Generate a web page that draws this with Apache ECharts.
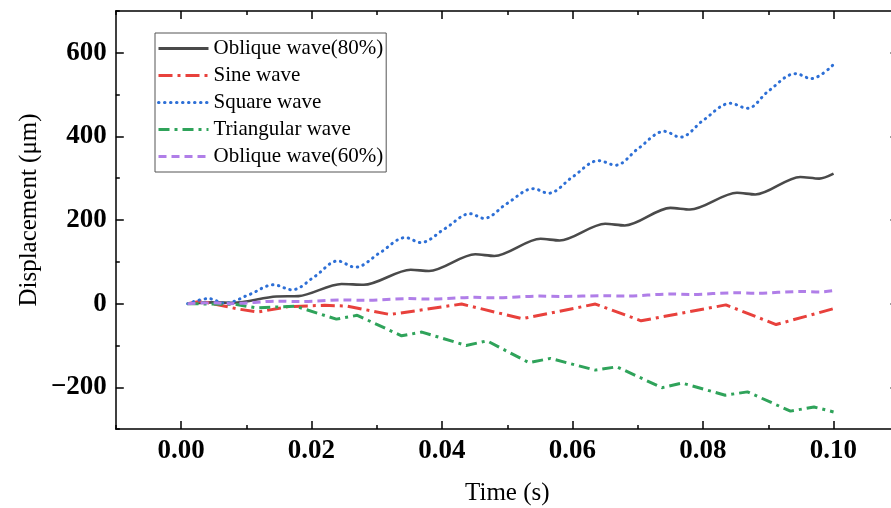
<!DOCTYPE html>
<html>
<head>
<meta charset="utf-8">
<script src="https://cdn.jsdelivr.net/npm/echarts@6/dist/echarts.min.js"></script>
<style>html,body{margin:0;padding:0;background:#fff;overflow:hidden}#c{width:891px;height:508px}</style>
</head>
<body>
<div id="c"></div>
<script>
// ---- data (time in s, displacement in μm) ----
var seriesNames = ['Oblique wave(80%)', 'Sine wave', 'Square wave', 'Triangular wave', 'Oblique wave(60%)'];

var tOblique80 = [0.001, 0.005, 0.008, 0.0146, 0.018, 0.0246, 0.028, 0.0352, 0.038, 0.0451, 0.048, 0.0551, 0.058, 0.065, 0.068, 0.075, 0.078, 0.0852, 0.088, 0.0949, 0.0978, 0.1];
var vOblique80 = [0, 3, 2, 17, 18, 47, 45, 81, 78, 118, 114, 155, 151, 191, 187, 229, 225, 265, 261, 303, 299, 311];

var tSine = [0.001, 0.003, 0.0088, 0.0118, 0.0165, 0.022, 0.0255, 0.032, 0.043, 0.0523, 0.0635, 0.0705, 0.0835, 0.0912, 0.1];
var vSine = [0, 6, -13, -20, -7, -4, -6, -26, -1, -36, -1, -41, -3, -50, -12];

var tSquare = [0.001, 0.0042, 0.0067, 0.0105, 0.0142, 0.017, 0.0205, 0.024, 0.0267, 0.0305, 0.0344, 0.0367, 0.0405, 0.0443, 0.0464, 0.050, 0.054, 0.0563, 0.060, 0.064, 0.0666, 0.070, 0.0741, 0.0765, 0.080, 0.0842, 0.0868, 0.090, 0.0942, 0.0966, 0.1];
var vSquare = [0, 12, 1, 22, 45, 33, 65, 102, 87, 122, 158, 146, 180, 215, 204, 240, 275, 264, 303, 342, 331, 370, 412, 398, 438, 479, 467, 508, 550, 538, 572];

var tTriangular = [0.001, 0.0085, 0.0115, 0.0175, 0.0238, 0.027, 0.0338, 0.0369, 0.0437, 0.0469, 0.0533, 0.0566, 0.0635, 0.0668, 0.0737, 0.0768, 0.0834, 0.0868, 0.0934, 0.097, 0.1];
var vTriangular = [0, -2, -10, -6, -37, -28, -77, -68, -100, -89, -141, -131, -159, -151, -201, -190, -219, -211, -257, -247, -259];

var tOblique60 = [0.001, 0.005, 0.0075, 0.015, 0.018, 0.025, 0.028, 0.035, 0.038, 0.045, 0.048, 0.055, 0.058, 0.065, 0.068, 0.075, 0.078, 0.085, 0.088, 0.095, 0.098, 0.1];
var vOblique60 = [0, 2, 0, 6, 5, 9, 8, 12, 11, 15, 14, 18, 17, 19, 18, 23, 22, 26, 25, 29, 28, 31];

var xTickLabels = ['0.00', '0.02', '0.04', '0.06', '0.08', '0.10'];
var yTickLabels = ['\u2212200', '0', '200', '400', '600'];

function pairs(t, v) { return t.map(function (x, i) { return [x, v[i]]; }); }

var FONT = 'Liberation Serif';
var chart = echarts.init(document.getElementById('c'), null, { renderer: 'canvas' });

var tickStyle = { color: '#000', width: 1.5 };
function minorX(pos, name) {
  return {
    type: 'value', gridIndex: 0, position: pos, min: -0.01, max: 0.11, interval: 0.01,
    axisLine: { show: true, onZero: false, lineStyle: { color: '#000', width: 1.5 } },
    axisTick: { show: true, inside: true, length: 4, lineStyle: tickStyle },
    axisLabel: { show: false }, splitLine: { show: false },
    name: name || '', nameLocation: 'middle', nameGap: 52,
    nameTextStyle: { fontFamily: FONT, fontSize: 25, color: '#000' }
  };
}
function minorY(pos, name) {
  return {
    type: 'value', gridIndex: 0, position: pos, min: -300, max: 700, interval: 100,
    axisLine: { show: true, onZero: false, lineStyle: { color: '#000', width: 1.5 } },
    axisTick: { show: true, inside: true, length: 4, lineStyle: tickStyle },
    axisLabel: { show: false }, splitLine: { show: false },
    name: name || '', nameLocation: 'middle', nameGap: 74, nameRotate: 90,
    nameTextStyle: { fontFamily: FONT, fontSize: 25, color: '#000', padding: [0, 0, 0, 20] }
  };
}
function majorX(pos, labels) {
  return {
    type: 'value', gridIndex: 1, position: pos, offset: 41.8, min: 0, max: 0.1, interval: 0.02,
    axisLine: { show: false, onZero: false },
    axisTick: { show: true, inside: true, length: 8, lineStyle: tickStyle },
    axisLabel: {
      show: labels, margin: 8, fontFamily: FONT, fontWeight: 'bold', fontSize: 27, color: '#000',
      formatter: function (v) { var i = Math.round(v / 0.02); return xTickLabels[i] || ''; }
    },
    splitLine: { show: false }
  };
}
function majorY(pos, labels) {
  return {
    type: 'value', gridIndex: 1, position: pos, offset: 65.2, min: -200, max: 600, interval: 200,
    axisLine: { show: false, onZero: false },
    axisTick: { show: true, inside: true, length: 8, lineStyle: tickStyle },
    axisLabel: {
      show: labels, margin: 9, fontFamily: FONT, fontWeight: 'bold', fontSize: 27, color: '#000',
      formatter: function (v) { var i = Math.round((v + 200) / 200); return yTickLabels[i] || ''; }
    },
    splitLine: { show: false }
  };
}

var styles = [
  { color: '#4a4a4a', width: 2.6, type: 'solid', smooth: 0.3 },
  { color: '#e8413c', width: 3, type: [14, 5, 3, 5], smooth: false },
  { color: '#2d6fd6', width: 3, type: [0.5, 5.5], cap: 'round', smooth: 0.35 },
  { color: '#2fa35a', width: 3, type: [11, 5, 3, 5], smooth: false },
  { color: '#b07ee8', width: 3, type: [8, 5], smooth: 0.3 }
];
var tArr = [tOblique80, tSine, tSquare, tTriangular, tOblique60];
var vArr = [vOblique80, vSine, vSquare, vTriangular, vOblique60];

var series = seriesNames.map(function (n, i) {
  var s = styles[i];
  return {
    name: n, type: 'line', xAxisIndex: 0, yAxisIndex: 0,
    data: pairs(tArr[i], vArr[i]), symbol: 'none', smooth: s.smooth,
    lineStyle: { color: s.color, width: s.width, type: s.type, cap: s.cap || 'butt' },
    itemStyle: { color: s.color },
    animation: false
  };
});

chart.setOption({
  animation: false,
  backgroundColor: '#fff',
  grid: [
    { left: 115.8, top: 10.9, width: 783, height: 418.2, outerBoundsMode: 'none', containLabel: false },
    { left: 181, top: 52.7, width: 652.3, height: 334.6, outerBoundsMode: 'none', containLabel: false }
  ],
  xAxis: [minorX('bottom', 'Time (s)'), minorX('top'), majorX('bottom', true), majorX('top', false)],
  yAxis: [minorY('left', 'Displacement (\u03bcm)'), minorY('right'), majorY('left', true), majorY('right', false)],
  legend: {
    orient: 'vertical', left: 155, top: 33,
    data: seriesNames,
    itemWidth: 50, itemHeight: 14, itemGap: 6,
    padding: [5, 3, 5, 2],
    borderColor: '#555', borderWidth: 1, borderRadius: 0,
    itemStyle: { opacity: 0 },
    lineStyle: { width: 3 },
    textStyle: { fontFamily: FONT, fontSize: 21, color: '#000' }
  },
  series: series
});
</script>
</body>
</html>
